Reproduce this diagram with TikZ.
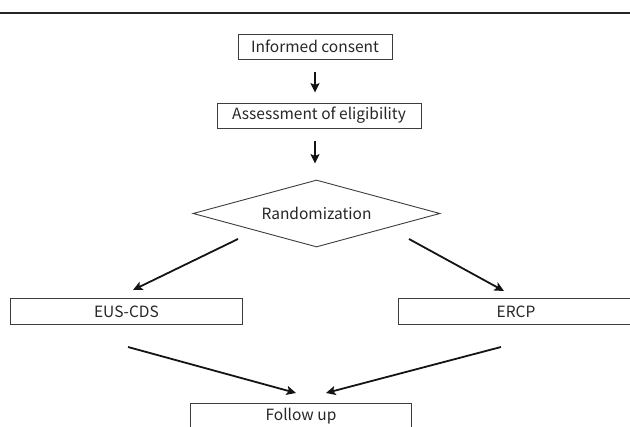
\documentclass[tikz,border=0pt]{standalone}
\usepackage{fontspec}
\setmainfont{Noto Sans CJK JP}
\usetikzlibrary{arrows.meta,shapes.geometric}
\definecolor{boxc}{HTML}{3C3C3C}
\definecolor{txtc}{HTML}{262626}
\begin{document}
\begin{tikzpicture}[x=1pt,y=-1pt,
  box/.style={draw=boxc, line width=0.9pt, inner sep=0pt, text=txtc,
    font=\fontsize{15.5}{18}\selectfont},
  arr/.style={line width=1.8pt, draw=black!92,
    -{Stealth[length=9.5pt,width=9pt,inset=2pt]}}]
\useasboundingbox (0,0) rectangle (630,427);
\draw[line width=2pt, black!85] (0,13) -- (630,13);
\node[box, minimum width=154pt, minimum height=25pt] (ic) at (315,46.5) {Informed consent};
\node[box, minimum width=204pt, minimum height=25pt] (ae) at (319,115.5) {Assessment of eligibility};
\node[box, shape=diamond, aspect=3.69, minimum width=247pt, minimum height=67pt] (rnd) at (316.5,213.5) {Randomization};
\node[box, minimum width=232pt, minimum height=26pt] (eus) at (126.5,311.5) {EUS-CDS};
\node[box, minimum width=236pt, minimum height=26pt] (ercp) at (516,311.5) {ERCP};
\node[box, minimum width=221pt, minimum height=26pt] (fu) at (301,416) {Follow up};
\draw[arr, shorten <=13pt, shorten >=10pt] (ic.south) -- (ic.south |- ae.north);
\draw[arr, shorten <=13pt, shorten >=16pt] (ic.south |- ae.south) -- (ic.south |- rnd.north);
\coordinate (l1) at (238,239);
\coordinate (l2) at (133,290);
\coordinate (r1) at (409,239);
\coordinate (r2) at (504,291);
\coordinate (b1) at (128,347);
\coordinate (b2) at (296,393);
\coordinate (c1) at (501,347);
\coordinate (c2) at (326,393);
\draw[arr] (l1) -- (l2);
\draw[arr] (r1) -- (r2);
\draw[arr] (b1) -- (b2);
\draw[arr] (c1) -- (c2);
\end{tikzpicture}
\end{document}
